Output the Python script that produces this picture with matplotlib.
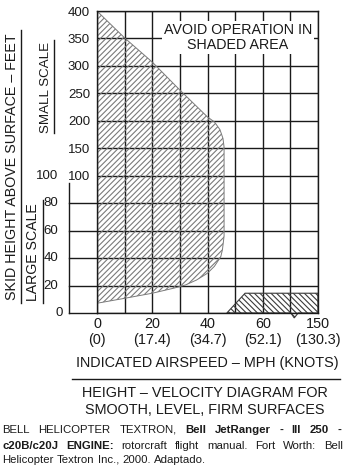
import numpy as np
import matplotlib
matplotlib.use('Agg')
import matplotlib.pyplot as plt
from matplotlib.lines import Line2D
from matplotlib.transforms import blended_transform_factory

# ---------------- data ----------------
# avoid region (low speed / height): boundary, airspeed in MPH and skid height in FEET
boundary_mph = [0, 10, 20, 30, 40, 42.5, 44.5, 45.6, 46, 46, 46, 45.4, 44.8, 42.5, 40, 36, 32, 28, 20, 10, 0]
boundary_ft = [400, 351, 307, 256, 207, 198, 184, 168, 152, 100, 56, 46, 41, 34, 29, 24, 20.4, 18.2, 14.4, 10.7, 7.1]
# avoid region (high speed, low height) with scale-break notch
highspeed_mph = [47, 53.6, 150, 150, 117.6, 111.3, 105.8, 47]
highspeed_ft = [0, 14.4, 14.4, 0, 0, -3.6, 0, 0]

x_ticks = [0, 20, 40, 60, 150]
x_tick_labels = ['0\n(0)', '20\n(17.4)', '40\n(34.7)', '60\n(52.1)', '150\n(130.3)']
x_grid = [0, 10, 20, 30, 40, 50, 60, 105, 150]
small_scale_ticks = [100, 150, 200, 250, 300, 350, 400]
large_scale_ticks = [0, 20, 40, 60, 80, 100]
large_scale_grid = [0, 20, 40, 60, 80]
y_grid = [0, 20, 40, 60, 80, 100, 150, 200, 250, 300, 350, 400]

caption_line1 = [('BELL', False), ('HELICOPTER', False), ('TEXTRON,', False), ('Bell', True),
                 ('JetRanger', True), ('-', True), ('III', True), ('250', True), ('-', True)]
caption_line2 = [('c20B/c20J', True), ('ENGINE:', True), ('rotorcraft', False), ('flight', False),
                 ('manual.', False), ('Fort', False), ('Worth:', False), ('Bell', False)]
caption_line3 = [('Helicopter', False), ('Textron', False), ('Inc.,', False), ('2000.', False),
                 ('Adaptado.', False)]

# ---------------- style ----------------
W, H = 348, 470
plt.rcParams['font.family'] = ['Liberation Sans', 'DejaVu Sans']
plt.rcParams['hatch.linewidth'] = 0.8
INK = '#1a1a1a'
LW = 1.0

fig = plt.figure(figsize=(W / 100, H / 100), dpi=100)
fig.patch.set_facecolor('white')


def fx(px):
    return px / W


def fy(py):
    return 1 - py / H


ax = fig.add_axes([fx(97), fy(313), (318 - 97) / W, (313 - 11) / H])


def xfwd(v):
    v = np.asarray(v, float)
    return np.where(v <= 60, v / 10, 6 + (v - 60) / 45)


def xinv(p):
    p = np.asarray(p, float)
    return np.where(p <= 6, p * 10, 60 + (p - 6) * 45)


def yfwd(v):
    v = np.asarray(v, float)
    return np.where(v <= 100, v / 20, 5 + (v - 100) / 50)


def yinv(p):
    p = np.asarray(p, float)
    return np.where(p <= 5, p * 20, 100 + (p - 5) * 50)


ax.set_xscale('function', functions=(xfwd, xinv))
ax.set_yscale('function', functions=(yfwd, yinv))
ax.set_xlim(0, 150)
ax.set_ylim(0, 400)

for v in x_grid:
    ax.axvline(v, color=INK, lw=LW, zorder=1)
for v in y_grid:
    ax.axhline(v, color=INK, lw=LW, zorder=1)
for s in ax.spines.values():
    s.set_color(INK)
    s.set_linewidth(LW)
    s.set_zorder(5)

ax.fill(boundary_mph, boundary_ft, facecolor='none', edgecolor='#7a7a7a',
        hatch='//////', lw=0.7, zorder=2)
ax.fill(highspeed_mph, highspeed_ft, facecolor='none', edgecolor='#3a3a3a',
        hatch='\\\\\\\\\\\\', lw=0.8, zorder=2, clip_on=False)

ax.set_xticks(x_ticks, x_tick_labels)
ax.set_xticks([], minor=True)
ax.tick_params(axis='x', which='both', length=0, pad=3, labelsize=10.4, labelcolor=INK)
for lab in ax.get_xticklabels():
    lab.set_linespacing(1.2)

ax.set_yticks(small_scale_ticks, [str(v) for v in small_scale_ticks])
ax.set_yticks([100], minor=True)
ax.tick_params(axis='y', which='major', length=0, pad=5, labelsize=9.5, labelcolor=INK)
ax.tick_params(axis='y', which='minor', length=4, width=LW, color=INK)

trans = blended_transform_factory(ax.transAxes, ax.transData)
for v in large_scale_ticks:
    xpos = (63 - 97) / 221 if v == 0 else (58 - 97) / 221
    ax.text(xpos, v, str(v), transform=trans, ha='right', va='center',
            fontsize=9.5, color=INK, clip_on=False)
xl = (69 - 97) / 221
for v in large_scale_grid:
    ax.plot([xl, 0], [v, v], transform=trans, color=INK, lw=LW, clip_on=False)
ax.plot([xl, xl], [0, 95], transform=trans, color=INK, lw=LW, clip_on=False)

ax.text((238 - 97) / 221, (313 - 37.5) / 302, 'AVOID OPERATION IN\nSHADED AREA',
        transform=ax.transAxes, ha='center', va='center', fontsize=10.3, color=INK,
        linespacing=1.05, zorder=4,
        bbox=dict(boxstyle='square,pad=0.15', facecolor='white', edgecolor='none'))

# left labels
fig.text(fx(12.5), fy(167), 'SKID HEIGHT ABOVE SURFACE – FEET', rotation=90,
         ha='center', va='center', fontsize=10.3, color=INK)
fig.add_artist(Line2D([fx(20.5), fx(20.5)], [fy(30), fy(303)], color=INK, lw=LW))
fig.text(fx(46), fy(87), 'SMALL SCALE', rotation=90, ha='center', va='center',
         fontsize=9.6, color=INK)
fig.add_artist(Line2D([fx(54.5), fx(54.5)], [fy(40), fy(133)], color=INK, lw=LW))
fig.text(fx(33), fy(252), 'LARGE SCALE', rotation=90, ha='center', va='center',
         fontsize=10.2, color=INK)
fig.add_artist(Line2D([fx(43), fx(43)], [fy(200), fy(303)], color=INK, lw=LW))

# bottom labels
fig.text(fx(207), fy(363), 'INDICATED AIRSPEED – MPH (KNOTS)', ha='center', va='center',
         fontsize=10.4, color=INK)
fig.add_artist(Line2D([fx(72), fx(340)], [fy(379), fy(379)], color=INK, lw=LW))
fig.text(fx(205), fy(393), 'HEIGHT – VELOCITY DIAGRAM FOR', ha='center', va='center',
         fontsize=10.4, color=INK)
fig.text(fx(205), fy(410), 'SMOOTH, LEVEL, FIRM SURFACES', ha='center', va='center',
         fontsize=10.4, color=INK)

# caption (justified)
CAP_FS = 8.2
renderer = fig.canvas.get_renderer()


def place_line(words, baseline_px, x0_px, x1_px, justify):
    arts = []
    for w, bold in words:
        t = fig.text(0, fy(baseline_px), w, fontsize=CAP_FS,
                     fontweight='bold' if bold else 'normal',
                     ha='left', va='baseline', color=INK)
        arts.append(t)
    widths = [a.get_window_extent(renderer).width for a in arts]
    if justify:
        gap = (x1_px - x0_px - sum(widths)) / (len(arts) - 1)
    else:
        gap = 0.278 * CAP_FS * 100 / 72
    x = x0_px
    for a, w in zip(arts, widths):
        a.set_x(fx(x))
        x += w + gap


place_line(caption_line1, 433, 2.5, 341, True)
place_line(caption_line2, 449, 2.5, 343, True)
place_line(caption_line3, 463, 2.5, 343, False)

fig.savefig('out.png', dpi=100, facecolor='white')
